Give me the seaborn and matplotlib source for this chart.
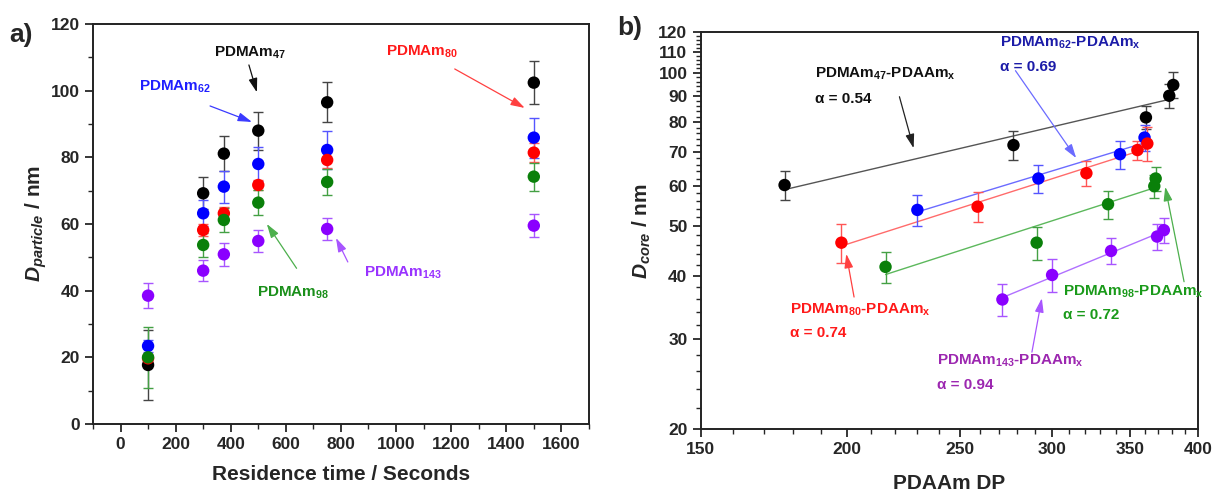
import numpy as np
import pandas as pd
import matplotlib
matplotlib.use("Agg")
import matplotlib.pyplot as plt
import matplotlib.ticker as mticker
import seaborn as sns

# ---- panel a: particle diameter vs residence time ----
res_time = [100, 300, 375, 500, 750, 1500]
d47 = [17.7, 69.2, 81.1, 88.0, 96.5, 102.4]
e47 = [10.5, 4.8, 5.2, 5.7, 6.0, 6.5]
d62 = [23.4, 63.2, 71.2, 78.0, 82.2, 85.9]
e62 = [1.7, 3.9, 4.8, 5.0, 5.6, 6.0]
d80 = [19.7, 58.2, 63.2, 71.7, 79.2, 81.4]
e80 = [1.0, 1.8, 1.8, 1.5, 2.5, 2.8]
d98 = [20.0, 53.7, 61.2, 66.4, 72.6, 74.2]
e98 = [9.2, 3.5, 3.6, 3.8, 3.9, 4.2]
d143 = [38.5, 46.0, 50.9, 54.9, 58.5, 59.5]
e143 = [3.7, 3.2, 3.4, 3.4, 3.3, 3.4]

# ---- panel b: core diameter vs PDAAm DP ----
dp47 = [177, 278, 361, 378, 381]
c47 = [60.2, 72.1, 81.7, 90.1, 94.6]
ce47 = [4.0, 4.6, 4.3, 5.0, 5.5]
dp62 = [230, 292, 343, 360]
c62 = [53.8, 62.0, 69.2, 74.6]
ce62 = [3.8, 4.0, 4.4, 4.5]
dp80 = [198, 259, 321, 355, 362]
c80 = [46.4, 54.6, 63.5, 70.5, 72.6]
ce80 = [4.0, 3.7, 3.5, 3.0, 5.5]
dp98 = [216, 291, 335, 367, 368]
c98 = [41.6, 46.4, 55.2, 59.9, 62.0]
ce98 = [2.9, 3.5, 3.5, 3.2, 3.4]
dp143 = [272, 300, 337, 369, 374]
c143 = [35.9, 40.1, 44.7, 47.7, 49.1]
ce143 = [2.6, 3.0, 2.6, 2.8, 2.8]

series = ["47", "62", "80", "98", "143"]
mk_col = {"47": "#000000", "62": "#0000ff", "80": "#ff0000", "98": "#0a800a", "143": "#8a00ff"}
err_col = {"47": "#444444", "62": "#5555ff", "80": "#ff5555", "98": "#44a044", "143": "#a855ff"}
fit_col = {"47": "#555555", "62": "#6b6bff", "80": "#ff6b6b", "98": "#5cb85c", "143": "#b070ff"}

sns.set_theme(style="ticks")
plt.rcParams["font.family"] = ["Liberation Sans", "DejaVu Sans"]
plt.rcParams["font.weight"] = "bold"
plt.rcParams["mathtext.fontset"] = "custom"
plt.rcParams["mathtext.rm"] = "Liberation Sans:bold"
plt.rcParams["mathtext.it"] = "Liberation Sans:italic:bold"
plt.rcParams["mathtext.bf"] = "Liberation Sans:bold"

fig = plt.figure(figsize=(12.12, 4.93), dpi=100)
ax1 = fig.add_axes([0.0767, 0.140, 0.4092, 0.8114])
ax2 = fig.add_axes([0.5781, 0.1298, 0.4103, 0.8047])

left = pd.DataFrame({
    "t": res_time * 5,
    "d": d47 + d62 + d80 + d98 + d143,
    "e": e47 + e62 + e80 + e98 + e143,
    "s": sum([[k] * len(res_time) for k in series], []),
})
right = pd.DataFrame({
    "dp": dp47 + dp62 + dp80 + dp98 + dp143,
    "c": c47 + c62 + c80 + c98 + c143,
    "e": ce47 + ce62 + ce80 + ce98 + ce143,
    "s": ["47"] * len(dp47) + ["62"] * len(dp62) + ["80"] * len(dp80)
         + ["98"] * len(dp98) + ["143"] * len(dp143),
})

# panel a markers + error bars
for k in series:
    sub = left[left["s"] == k]
    ax1.errorbar(sub["t"], sub["d"], yerr=sub["e"], fmt="none", ecolor=err_col[k],
                 elinewidth=1.0, capsize=3.5, capthick=1.0, zorder=2)
sns.scatterplot(data=left, x="t", y="d", hue="s", palette=mk_col, s=80,
                edgecolor="none", legend=False, ax=ax1, zorder=3)

# panel b: power-law fits, error bars, markers
fits = []
for k in series:
    sub = right[right["s"] == k]
    slope, icpt = np.polyfit(np.log(sub["dp"]), np.log(sub["c"]), 1)
    xs = np.array([sub["dp"].min(), sub["dp"].max()])
    fits.append(pd.DataFrame({"dp": xs, "c": np.exp(icpt) * xs ** slope, "s": k}))
    ax2.errorbar(sub["dp"], sub["c"], yerr=sub["e"], fmt="none", ecolor=err_col[k],
                 elinewidth=1.0, capsize=3.5, capthick=1.0, zorder=2)
fits = pd.concat(fits)
sns.lineplot(data=fits, x="dp", y="c", hue="s", palette=fit_col, linewidth=1.0,
             legend=False, ax=ax2, zorder=1)
sns.scatterplot(data=right, x="dp", y="c", hue="s", palette=mk_col, s=80,
                edgecolor="none", legend=False, ax=ax2, zorder=3)

# axes styling
for ax in (ax1, ax2):
    for sp in ax.spines.values():
        sp.set_linewidth(1.4)
        sp.set_color("#222222")
    ax.tick_params(which="major", direction="out", length=6, width=1.3,
                   labelsize=12.5, top=False, right=False)
    ax.tick_params(which="minor", direction="out", length=3.5, width=1.0,
                   top=False, right=False)

ax1.set_xlim(-100, 1700)
ax1.set_ylim(0, 120)
ax1.xaxis.set_major_locator(mticker.MultipleLocator(200))
ax1.xaxis.set_minor_locator(mticker.MultipleLocator(100))
ax1.yaxis.set_major_locator(mticker.MultipleLocator(20))
ax1.yaxis.set_minor_locator(mticker.MultipleLocator(10))
ax1.set_xlabel("Residence time / Seconds", fontsize=15, fontweight="bold", labelpad=9)
ax1.set_ylabel(r"$\it{D}_{\it{particle}}$ / nm", fontsize=15, fontweight="bold", labelpad=1)

ax2.set_xscale("log")
ax2.set_yscale("log")
ax2.set_xlim(150, 400)
ax2.set_ylim(20, 120)
xmaj = [150, 200, 250, 300, 350, 400]
ymaj = list(range(20, 121, 10))
ax2.xaxis.set_major_locator(mticker.FixedLocator(xmaj))
ax2.xaxis.set_major_formatter(mticker.FixedFormatter([str(v) for v in xmaj]))
ax2.xaxis.set_minor_locator(mticker.FixedLocator([v for v in range(160, 400, 10) if v not in xmaj]))
ax2.xaxis.set_minor_formatter(mticker.NullFormatter())
ax2.yaxis.set_major_locator(mticker.FixedLocator(ymaj))
ax2.yaxis.set_major_formatter(mticker.FixedFormatter([str(v) for v in ymaj]))
ax2.yaxis.set_minor_locator(mticker.FixedLocator([v for v in range(20, 121, 2) if v % 10]))
ax2.yaxis.set_minor_formatter(mticker.NullFormatter())
ax2.set_xlabel("PDAAm DP", fontsize=15, fontweight="bold", labelpad=12)
ax2.set_ylabel(r"$\it{D}_{\it{core}}$ / nm", fontsize=15, fontweight="bold", labelpad=4)
for ax in (ax1, ax2):
    for lab in ax.get_xticklabels() + ax.get_yticklabels():
        lab.set_fontweight("bold")

fig.text(0.008, 0.93, "a)", fontsize=19, fontweight="bold", va="center")
fig.text(0.509, 0.943, "b)", fontsize=19, fontweight="bold", va="center")


def arrow(ax, xy, xytext, color):
    ax.annotate("", xy=xy, xytext=xytext,
                arrowprops=dict(arrowstyle="-|>,head_length=0.7,head_width=0.22",
                                color=color, lw=0.9, shrinkA=0, shrinkB=0))


tk = dict(fontsize=11, fontweight="bold", va="center")
sub_x = r"$_{\mathrm{x}}$"
# panel a labels
ax1.text(470, 111.3, r"PDMAm$_{47}$", color="#111111", ha="center", **tk)
arrow(ax1, (495, 99.5), (466, 107.7), "#111111")
ax1.text(198, 101, r"PDMAm$_{62}$", color="#1f1fff", ha="center", **tk)
arrow(ax1, (477, 90.6), (325, 95.4), "#3a3aff")
ax1.text(1094, 111.6, r"PDMAm$_{80}$", color="#ff1a1a", ha="center", **tk)
arrow(ax1, (1467, 94.8), (1213, 106.5), "#ff4040")
ax1.text(625, 39.5, r"PDMAm$_{98}$", color="#1a8f1a", ha="center", **tk)
arrow(ax1, (531, 60), (639, 46.7), "#4caf4c")
ax1.text(1025, 45.5, r"PDMAm$_{143}$", color="#9933ff", ha="center", **tk)
arrow(ax1, (782, 55.8), (825, 48.6), "#a855ff")

# panel b labels
ax2.text(188, 99.4, r"PDMAm$_{47}$-PDAAm" + sub_x, color="#111111", ha="left", **tk)
ax2.text(188, 88.7, "α = 0.54", color="#111111", ha="left", **tk)
arrow(ax2, (228.3, 71.1), (222, 89.7), "#222222")
ax2.text(270.6, 114.2, r"PDMAm$_{62}$-PDAAm" + sub_x, color="#1c1ca8", ha="left", **tk)
ax2.text(270.6, 102.7, "α = 0.69", color="#1c1ca8", ha="left", **tk)
arrow(ax2, (314.6, 68.0), (279.1, 100.9), "#6b6bff")
ax2.text(179, 34.2, r"PDMAm$_{80}$-PDAAm" + sub_x, color="#ff1a1a", ha="left", **tk)
ax2.text(179, 30.8, "α = 0.74", color="#ff1a1a", ha="left", **tk)
arrow(ax2, (199.9, 44.1), (203, 36.3), "#ff4040")
ax2.text(306.6, 37.2, r"PDMAm$_{98}$-PDAAm" + sub_x, color="#1a9a1a", ha="left", **tk)
ax2.text(306.6, 33.4, "α = 0.72", color="#1a9a1a", ha="left", **tk)
arrow(ax2, (375, 59.7), (389.2, 38.9), "#4caf4c")
ax2.text(239.2, 27.2, r"PDMAm$_{143}$-PDAAm" + sub_x, color="#9c27b0", ha="left", **tk)
ax2.text(239.2, 24.4, "α = 0.94", color="#9c27b0", ha="left", **tk)
arrow(ax2, (294, 36.1), (288.3, 28.3), "#a855ff")

fig.savefig("out.png", dpi=100)
